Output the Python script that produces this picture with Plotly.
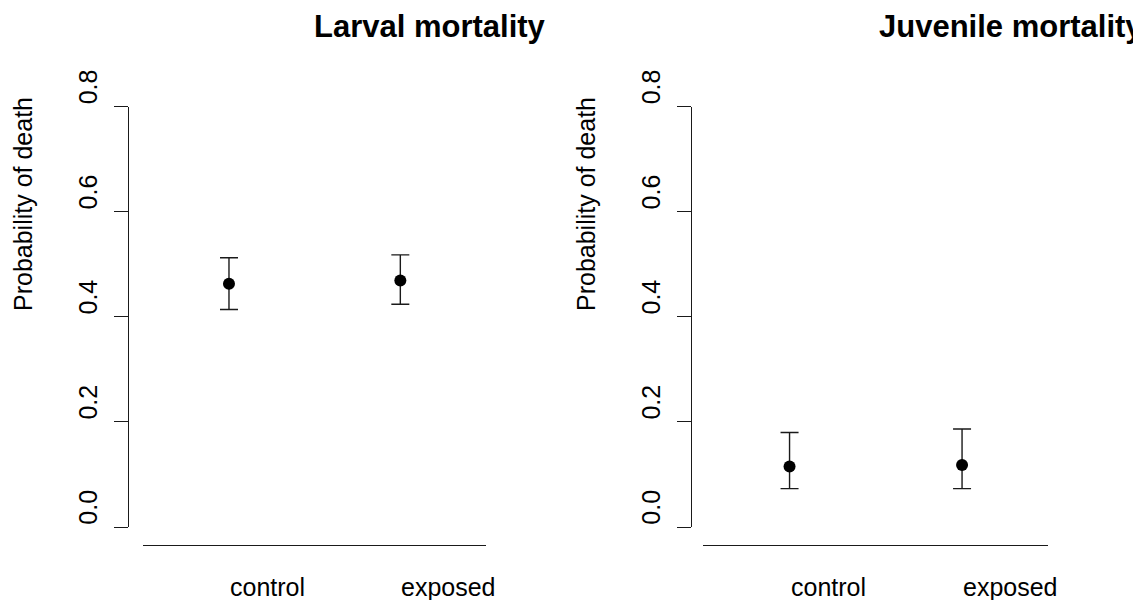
import plotly.graph_objects as go

W, H = 1133, 600

groups = ["control", "exposed"]
panel_titles = ["Larval mortality", "Juvenile mortality"]
larval_mean = [0.463, 0.469]
larval_lo = [0.414, 0.424]
larval_hi = [0.5125, 0.518]
juv_mean = [0.115, 0.118]
juv_lo = [0.073, 0.073]
juv_hi = [0.180, 0.1865]
y_ticks = [0.0, 0.2, 0.4, 0.6, 0.8]
y_tick_text = ["0.0", "0.2", "0.4", "0.6", "0.8"]
x_pos = [1, 2]

FONT = "Liberation Sans, Arial, sans-serif"
BASE = 25

def px(x):
    return x / W

def py(y):
    return 1 - y / H

fig = go.Figure()

panels = [
    dict(mean=larval_mean, lo=larval_lo, hi=larval_hi, yax_x=128.3, xdom=(143.3, 486.0),
         title=panel_titles[0], title_x=430, title_anchor="center", ytitle_x=23),
    dict(mean=juv_mean, lo=juv_lo, hi=juv_hi, yax_x=690.7, xdom=(703.3, 1048.3),
         title=panel_titles[1], title_x=876.7, title_anchor="left", ytitle_x=586),
]

y_top_px, y_zero_px, x_line_px = 106.7, 527.0, 545.0

annotations = []
for i, p in enumerate(panels):
    n = i + 1
    xa = "x" if n == 1 else f"x{n}"
    ya = "y" if n == 1 else f"y{n}"
    fig.add_trace(go.Scatter(
        x=x_pos, y=p["mean"], mode="markers", xaxis=xa, yaxis=ya,
        marker=dict(color="black", size=12),
        error_y=dict(type="data", symmetric=False,
                     array=[h - m for h, m in zip(p["hi"], p["mean"])],
                     arrayminus=[m - l for m, l in zip(p["mean"], p["lo"])],
                     color="#1a1a1a", thickness=1.4, width=9),
        showlegend=False, hoverinfo="skip"))
    xkey = "xaxis" if n == 1 else f"xaxis{n}"
    ykey = "yaxis" if n == 1 else f"yaxis{n}"
    fig.update_layout(**{
        xkey: dict(domain=[px(p["xdom"][0]), px(p["xdom"][1])], range=[0.5, 2.5],
                   anchor="free", position=py(x_line_px), showline=True, linecolor="#1a1a1a",
                   linewidth=1.4, showgrid=False, zeroline=False, ticks="", showticklabels=False,
                   fixedrange=True, automargin=False),
        ykey: dict(domain=[py(y_zero_px), py(y_top_px)], range=[0, 0.8],
                   anchor="free", position=px(p["yax_x"]), showline=True, linecolor="#1a1a1a",
                   linewidth=1.4, showgrid=False, zeroline=False, ticks="outside", ticklen=14,
                   tickwidth=1.4, tickcolor="#1a1a1a", tickvals=y_ticks, ticktext=y_tick_text,
                   tickangle=-90, ticklabelshift=-16, ticklabelstandoff=7, automargin=False,
                   tickfont=dict(family=FONT, size=BASE, color="black"), fixedrange=True),
    })
    for xv, g in zip(x_pos, groups):
        annotations.append(dict(x=xv, y=py(587), xref=xa, yref="paper", text=g, showarrow=False,
                                xanchor="left", yanchor="middle", borderpad=0,
                                font=dict(family=FONT, size=BASE, color="black")))
    annotations.append(dict(x=px(p["title_x"]), y=py(26), xref="paper", yref="paper",
                            text=f"<b>{p['title']}</b>", showarrow=False, xanchor=p["title_anchor"],
                            yanchor="middle", font=dict(family=FONT, size=31, color="black")))
    annotations.append(dict(x=px(p["ytitle_x"]), y=py(204), xref="paper", yref="paper",
                            text="Probability of death", showarrow=False, textangle=-90,
                            xanchor="center", yanchor="middle",
                            font=dict(family=FONT, size=BASE, color="black")))

fig.update_layout(width=W, height=H, margin=dict(l=0, r=0, t=0, b=0, autoexpand=False),
                  paper_bgcolor="white", plot_bgcolor="white", annotations=annotations)

fig.write_html("out.html", config={"displayModeBar": False})
